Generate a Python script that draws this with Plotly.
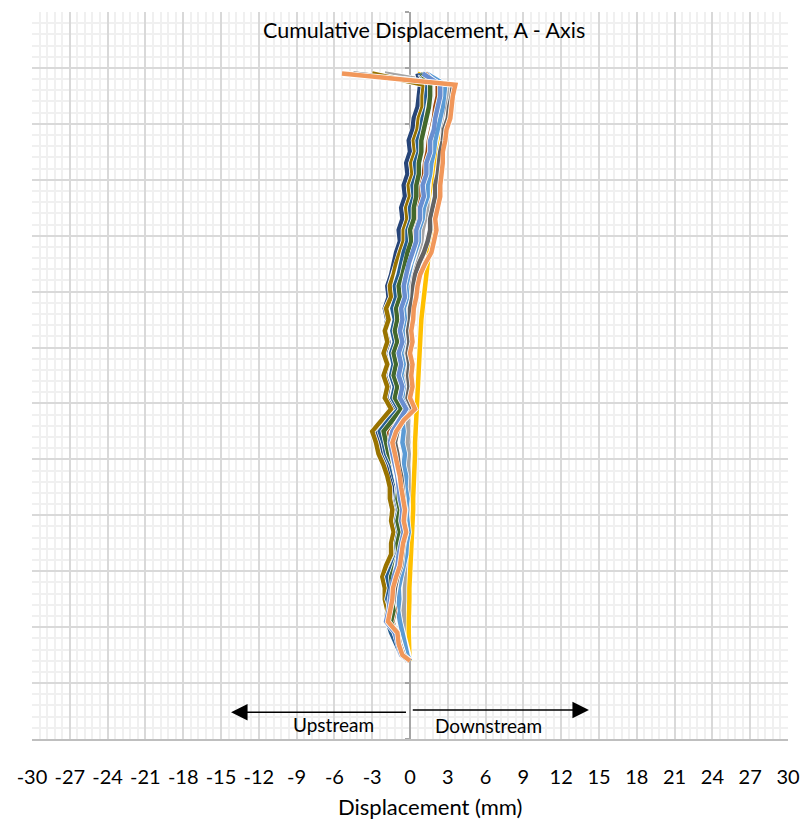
import plotly.graph_objects as go

# Depth (m) below top of casing, reversed vertical axis
DEPTH = [5.5, 6.5, 7.5, 8.5, 9.5, 10.5, 11.5, 12.5, 13.5, 14.5,
         15.5, 16.5, 17.5, 18.5, 19.5, 20.5, 21.5, 22.5, 23.5, 24.5,
         25.5, 26.5, 27.5, 28.5, 29.5, 30.5, 31.5, 32.5, 33.5, 34.5,
         35.5, 36.5, 37.5, 38.5, 39.5, 40.5, 41.5, 42.5, 43.5, 44.5,
         45.5, 46.5, 47.5, 48.5, 49.5, 50.5, 51.5, 52.5, 53.5, 54.5,
         55.5, 56.5, 57.5, 58.0]

# Cumulative displacement (mm) for each reading
S_ED = [-5.2, 3.5, 3.4, 3.2, 3.1, 2.8, 2.7, 2.5, 2.5, 2.3,
        2.3, 2.2, 2.1, 1.9, 1.9, 1.7, 1.5, 1.0, 0.7, 0.5,
        0.4, 0.2, 0.15, 0.0, 0.1, -0.1, 0.1, 0.0, 0.1, -0.1,
        0.3, -0.6, -1.2, -1.5, -1.3, -1.1, -0.9, -0.8, -0.6, -0.5,
        -0.6, -0.4, -0.6, -0.8, -0.9, -1.2, -1.4, -1.5, -1.7, -1.8,
        -1.1, -0.9, -0.6, 0.0]
S_GR = [-2.0, 3.1, 3.0, 2.8, 2.7, 2.4, 2.3, 2.1, 2.0, 1.8,
        1.7, 1.6, 1.4, 1.2, 1.0, 0.9, 0.7, 0.3, 0.1, -0.1,
        0.0, -0.3, -0.2, -0.4, -0.3, -0.5, -0.3, -0.5, -0.3, -0.4,
        0.0, -0.2, -0.15, -0.2, -0.1, -0.15, -0.1, -0.1, -0.05, -0.1,
        0.0, -0.05, -0.1, -0.1, -0.2, -0.3, -0.4, -0.4, -0.5, -0.4,
        -0.3, -0.2, -0.1, 0.0]
S_GD = [0.6, 2.5, 2.6, 2.4, 2.4, 2.2, 2.2, 2.0, 2.0, 1.9,
        1.9, 1.8, 1.8, 1.7, 1.7, 1.6, 1.5, 1.4, 1.3, 1.2,
        1.05, 1.0, 0.9, 0.85, 0.8, 0.75, 0.7, 0.65, 0.6, 0.6,
        0.55, 0.5, 0.45, 0.4, 0.4, 0.35, 0.3, 0.3, 0.25, 0.25,
        0.2, 0.15, 0.15, 0.1, 0.05, 0.0, -0.05, -0.05, -0.1, -0.1,
        -0.1, -0.1, -0.05, 0.0]
S_LB = [1.3, 2.8, 2.7, 2.6, 2.4, 2.2, 2.0, 1.9, 1.7, 1.6,
        1.4, 1.4, 1.1, 1.0, 0.7, 0.7, 0.4, 0.1, -0.1, -0.3,
        -0.2, -0.5, -0.4, -0.6, -0.5, -0.7, -0.5, -0.7, -0.5, -0.6,
        -0.1, -0.6, -0.5, -0.6, -0.4, -0.5, -0.3, -0.35, -0.2, -0.3,
        -0.2, -0.1, -0.25, -0.3, -0.5, -0.7, -0.9, -0.85, -0.95, -0.8,
        -0.6, -0.4, -0.2, 0.0]
S_NV = [0.6, 0.8, 0.7, 0.6, 0.3, 0.2, -0.1, 0.0, -0.3, -0.2,
        -0.5, -0.4, -0.7, -0.6, -0.9, -0.8, -1.1, -1.3, -1.5, -1.8,
        -1.7, -2.0, -1.8, -2.0, -1.7, -2.0, -1.8, -2.0, -1.7, -1.9,
        -1.3, -2.0, -2.7, -2.4, -2.3, -1.9, -1.7, -1.4, -1.5, -1.2,
        -1.4, -1.2, -1.4, -1.3, -1.7, -2.1, -1.8, -1.9, -1.6, -1.9,
        -1.2, -1.0, -0.7, -0.1]
S_BR = [1.2, 2.2, 2.2, 2.0, 1.9, 1.7, 1.5, 1.4, 1.2, 1.1,
        0.9, 0.8, 0.6, 0.5, 0.2, 0.2, 0.0, -0.3, -0.5, -0.7,
        -0.6, -0.9, -0.8, -1.0, -0.8, -1.1, -0.9, -1.1, -0.8, -1.0,
        -0.5, -1.2, -1.9, -1.7, -1.5, -1.2, -1.0, -0.8, -0.9, -0.7,
        -0.9, -0.7, -0.9, -0.8, -1.1, -1.4, -1.3, -1.4, -1.2, -1.4,
        -1.1, -0.8, -0.5, -0.2]
S_DK = [-4.5, 3.4, 3.3, 3.1, 3.0, 2.7, 2.6, 2.4, 2.3, 2.2,
        2.0, 2.0, 1.8, 1.6, 1.6, 1.4, 1.1, 0.7, 0.4, 0.25,
        0.2, 0.0, 0.0, -0.15, -0.05, -0.2, -0.05, -0.15, -0.05, -0.2,
        0.2, -0.6, -1.0, -1.2, -1.0, -0.9, -0.7, -0.6, -0.5, -0.4,
        -0.45, -0.3, -0.5, -0.6, -0.7, -1.0, -1.2, -1.3, -1.4, -1.6,
        -1.0, -0.8, -0.5, 0.0]
S_OL = [-3.0, 1.1, 1.0, 1.0, 0.7, 0.6, 0.3, 0.4, 0.1, 0.2,
        -0.1, 0.0, -0.3, -0.2, -0.5, -0.5, -0.8, -1.1, -1.3, -1.6,
        -1.5, -1.9, -1.7, -2.0, -1.8, -2.1, -1.8, -2.1, -1.8, -2.0,
        -1.5, -2.2, -3.0, -2.7, -2.5, -2.1, -1.8, -1.6, -1.6, -1.4,
        -1.5, -1.3, -1.5, -1.5, -1.9, -2.2, -2.0, -2.0, -1.8, -1.9,
        -1.2, -1.0, -0.7, -0.1]
S_SB = [0.8, 1.4, 1.3, 1.3, 1.0, 0.9, 0.6, 0.7, 0.4, 0.5,
        0.2, 0.3, 0.0, 0.1, -0.2, -0.2, -0.5, -0.7, -0.9, -1.2,
        -1.1, -1.4, -1.2, -1.4, -1.2, -1.5, -1.3, -1.5, -1.2, -1.4,
        -0.9, -1.7, -2.4, -2.1, -1.9, -1.5, -1.3, -1.0, -1.1, -0.9,
        -1.1, -0.9, -1.1, -1.0, -1.4, -1.8, -1.6, -1.8, -1.5, -1.8,
        -1.5, -1.1, -0.7, -0.2]
S_DG = [0.9, 1.6, 1.6, 1.5, 1.3, 1.1, 0.9, 0.9, 0.7, 0.7,
        0.5, 0.5, 0.3, 0.3, 0.0, 0.1, -0.2, -0.4, -0.6, -0.9,
        -0.8, -1.1, -1.0, -1.2, -1.0, -1.3, -1.1, -1.3, -1.0, -1.2,
        -0.7, -1.4, -2.1, -1.9, -1.7, -1.3, -1.1, -0.9, -1.0, -0.8,
        -1.0, -0.8, -1.0, -0.9, -1.2, -1.5, -1.4, -1.5, -1.3, -1.5,
        -1.2, -0.9, -0.6, -0.2]
S_B6 = [1.0, 2.4, 2.4, 2.2, 2.0, 1.9, 1.6, 1.6, 1.3, 1.3,
        1.0, 1.1, 0.8, 0.8, 0.5, 0.5, 0.2, -0.1, -0.3, -0.5,
        -0.4, -0.7, -0.6, -0.8, -0.6, -0.9, -0.7, -0.9, -0.6, -0.8,
        -0.3, -0.9, -1.4, -1.6, -1.4, -1.2, -1.0, -0.9, -0.8, -0.6,
        -0.7, -0.5, -0.7, -0.9, -1.0, -1.3, -1.5, -1.6, -1.7, -1.9,
        -1.2, -1.0, -0.7, -0.1]
S_F1 = [-5.4, 3.6, 3.4, 3.3, 3.2, 2.9, 2.8, 2.6, 2.6, 2.5,
        2.4, 2.4, 2.2, 2.0, 2.1, 1.9, 1.7, 1.2, 0.8, 0.6,
        0.5, 0.3, 0.25, 0.1, 0.2, 0.0, 0.2, 0.1, 0.2, 0.0,
        0.4, -0.5, -1.1, -1.4, -1.2, -1.0, -0.8, -0.7, -0.55, -0.4,
        -0.5, -0.3, -0.55, -0.7, -0.8, -1.1, -1.35, -1.4, -1.6, -1.75,
        -1.0, -0.9, -0.6, 0.0]

SERIES = [
    ("Reading 1", "#ED7D31", S_ED),
    ("Reading 2", "#A5A5A5", S_GR),
    ("Reading 3", "#FFC000", S_GD),
    ("Reading 4", "#5B9BD5", S_LB),
    ("Reading 5", "#264478", S_NV),
    ("Reading 6", "#9E480E", S_BR),
    ("Reading 7", "#636363", S_DK),
    ("Reading 8", "#997300", S_OL),
    ("Reading 9", "#255E91", S_SB),
    ("Reading 10", "#43682B", S_DG),
    ("Reading 11", "#698ED0", S_B6),
    ("Reading 12", "#F1975A", S_F1),
]

X_TICKS = [-30, -27, -24, -21, -18, -15, -12, -9, -6, -3, 0,
           3, 6, 9, 12, 15, 18, 21, 24, 27, 30]

FONT = "Lato, 'Open Sans', sans-serif"

fig = go.Figure()
for name, color, vals in SERIES:
    fig.add_trace(go.Scatter(x=vals, y=DEPTH, mode="lines",
                             line=dict(color="white", width=6),
                             hoverinfo="skip", showlegend=False))
    fig.add_trace(go.Scatter(x=vals, y=DEPTH, mode="lines", name=name,
                             line=dict(color=color, width=4.5),
                             showlegend=False))

fig.update_layout(
    width=800, height=814,
    margin=dict(l=24, r=20, t=4, b=83),
    paper_bgcolor="white", plot_bgcolor="white",
    font=dict(family=FONT, size=20, color="#000000"),
    hovermode=False,
    xaxis=dict(
        range=[-30, 30], tickvals=X_TICKS, ticktext=[str(v) for v in X_TICKS],
        showgrid=True, gridcolor="#D9D9D9", gridwidth=1.5,
        minor=dict(dtick=0.6, tick0=0, showgrid=True, gridcolor="#F0F0F0", gridwidth=1.5),
        zeroline=False, showline=True, linecolor="#BFBFBF", linewidth=1.5,
        ticks="", ticklabelstandoff=19,
        tickfont=dict(family=FONT, size=20, color="#000000"),
    ),
    yaxis=dict(
        range=[65, 0], dtick=5, tick0=0, showticklabels=False,
        showgrid=True, gridcolor="#D9D9D9", gridwidth=1.5,
        minor=dict(dtick=1, tick0=0, showgrid=True, gridcolor="#F0F0F0", gridwidth=1.5),
        zeroline=False, showline=True, linecolor="#A6A6A6", linewidth=1.5,
        anchor="free", position=0.5, layer="below traces",
        ticks="outside", ticklen=4, tickcolor="#A6A6A6", tickwidth=1.5,
    ),
    annotations=[
        dict(text="Cumulative Displacement, A - Axis", xref="paper", yref="paper",
             x=0.5185, y=0.975, xanchor="center", yanchor="middle", showarrow=False,
             font=dict(family=FONT, size=21.5, color="#000000")),
        dict(text="Displacement (mm)", xref="paper", yref="paper",
             x=0.5265, y=-0.0922, xanchor="center", yanchor="middle", showarrow=False,
             font=dict(family=FONT, size=22, color="#000000")),
        dict(x=-14.2, y=62.6, ax=-0.2, ay=62.6, xref="x", yref="y", axref="x", ayref="y",
             text="", showarrow=True, arrowhead=2, arrowsize=2.2, arrowwidth=1.5,
             arrowcolor="#000000"),
        dict(x=14.2, y=62.4, ax=0.1, ay=62.4, xref="x", yref="y", axref="x", ayref="y",
             text="", showarrow=True, arrowhead=2, arrowsize=2.2, arrowwidth=1.5,
             arrowcolor="#000000"),
        dict(text="Upstream", x=-6.1, y=63.7, xref="x", yref="y", showarrow=False,
             xanchor="center", yanchor="middle",
             font=dict(family=FONT, size=19, color="#000000")),
        dict(text="Downstream", x=6.2, y=63.8, xref="x", yref="y", showarrow=False,
             xanchor="center", yanchor="middle",
             font=dict(family=FONT, size=19, color="#000000")),
    ],
)

fig.write_html("out.html")
